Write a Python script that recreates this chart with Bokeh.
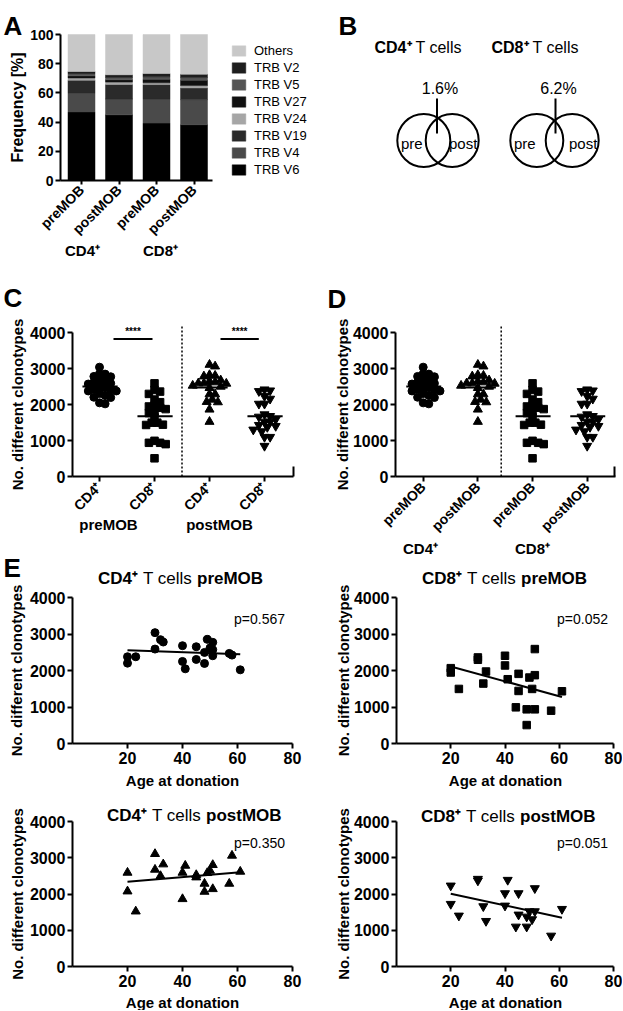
import numpy as np
from math import pi
from bokeh.plotting import figure
from bokeh.models import Range1d, Label, FixedTicker, Legend, LegendItem, ColumnDataSource
from bokeh.layouts import column, row
from bokeh.embed import file_html
from bokeh.resources import INLINE

FONT = "Liberation Sans"
SUP = "\u207a"

# ---------------- data ----------------
# Panel A: TRB V-gene usage, % of clonotypes
bar_samples = ["preMOB", "postMOB", "preMOB", "postMOB"]
bar_cells = ["CD4" + SUP, "CD8" + SUP]
trb_names = ["TRB V6", "TRB V4", "TRB V19", "TRB V24", "TRB V27", "TRB V5", "TRB V2", "Others"]
trb_v6 = [47.0, 45.0, 39.3, 38.2]
trb_v4 = [12.7, 10.8, 16.5, 17.2]
trb_v19 = [9.0, 10.0, 9.9, 8.0]
trb_v24 = [1.5, 1.6, 1.2, 1.6]
trb_v27 = [1.5, 1.6, 2.5, 3.6]
trb_v5 = [1.5, 1.6, 1.6, 1.9]
trb_v2 = [1.5, 1.8, 2.3, 2.3]
trb_others = [25.3, 27.6, 26.7, 27.2]

# Panel B: clonotype overlap pre/post mobilisation
venn_cells = ["CD4" + SUP, "CD8" + SUP]
venn_overlap = ["1.6%", "6.2%"]

# Panel E (and C, D): donor age and number of different clonotypes
age_cd4_pre = [20, 20, 23, 30, 30, 32, 33, 40, 40, 41, 45, 45, 48, 48, 49, 51, 50, 51, 51, 57, 58, 61]
cd4_pre = [2202, 2376, 2376, 3037, 2587, 2844, 2780, 2679, 2248, 2046, 2651, 2303, 2193, 2495,
           2853, 2771, 2615, 2569, 2404, 2468, 2422, 2018]
age_cd8_pre = [20, 20, 23, 30, 30, 32, 33, 40, 40, 41, 44, 45, 45, 48, 48, 49, 50, 51, 51, 51, 57, 61]
cd8_pre = [2064, 1945, 1495, 2358, 2294, 1642, 1972, 2404, 2138, 1761, 991, 1908, 1440, 936,
           505, 1807, 1495, 2587, 1872, 936, 899, 1431]
age_cd4_post = [20, 20, 23, 30, 30, 32, 33, 40, 40, 41, 45, 45, 48, 48, 49, 50, 51, 51, 57, 58, 61]
cd4_post = [2590, 2074, 1521, 3106, 2673, 2498, 2820, 2590, 1862, 2783, 2525, 2461, 2286, 2065,
            2581, 2645, 2802, 2138, 2286, 3060, 2618]
age_cd8_post = [20, 20, 23, 30, 30, 32, 33, 40, 40, 41, 44, 45, 45, 48, 48, 49, 50, 51, 51, 57, 61]
cd8_post = [2230, 1724, 1401, 2415, 2369, 1659, 1253, 2018, 1677, 2387, 1097, 2018, 1429, 1373,
            1097, 1521, 1300, 2157, 1521, 848, 1585]
p_values = ["p=0.567", "p=0.052", "p=0.350", "p=0.051"]
significance = "****"

# ---------------- helpers ----------------
def lin(p0, v0, p1, v1):
    return lambda p: v0 + (p - p0) * (v1 - v0) / (p1 - p0)


def make_fig(box, fx, fy, axes=True):
    X0, Y0, X1, Y1 = box
    kw = dict(width=X1 - X0, height=Y1 - Y0,
              x_range=Range1d(fx(X0), fx(X1)), y_range=Range1d(fy(Y1), fy(Y0)),
              min_border=0, min_border_left=0, min_border_right=0,
              min_border_top=0, min_border_bottom=0,
              output_backend="svg", toolbar_location=None, tools="", title=None)
    if not axes:
        kw.update(x_axis_type=None, y_axis_type=None)
    p = figure(**kw)
    p.outline_line_color = None
    p.background_fill_color = "white"
    p.border_fill_color = "white"
    if axes:
        p.grid.visible = False
    return p


def setup_axes(p, x_at, y_at, xbounds, ybounds, xticks, yticks, xsize, ysize):
    for ax in list(p.xaxis) + list(p.yaxis):
        ax.axis_line_width = 2
        ax.axis_line_color = "black"
        ax.major_tick_line_width = 2
        ax.major_tick_line_color = "black"
        ax.major_tick_out = 5
        ax.major_tick_in = 0
        ax.minor_tick_line_color = None
        ax.major_label_text_font = FONT
        ax.major_label_text_font_style = "bold"
        ax.major_label_text_color = "black"
    p.xaxis.fixed_location = x_at
    p.yaxis.fixed_location = y_at
    p.xaxis.bounds = xbounds
    p.yaxis.bounds = ybounds
    p.xaxis.ticker = FixedTicker(ticks=xticks)
    p.yaxis.ticker = FixedTicker(ticks=yticks)
    p.xaxis.major_label_text_font_size = f"{xsize}px"
    p.yaxis.major_label_text_font_size = f"{ysize}px"
    p.yaxis.major_label_standoff = 2
    p.xaxis.major_label_standoff = 3


def lab(p, x, y, s, size, bold=False, align="center", baseline="middle", angle=0):
    p.add_layout(Label(x=x, y=y, text=s, text_font=FONT, text_font_size=f"{size}px",
                       text_font_style="bold" if bold else "normal", text_color="black",
                       text_align=align, text_baseline=baseline, angle=angle))


def swarm(vals, ppx, ppy, d=5.6):
    vals = np.asarray(vals, float)
    ys = vals * ppy
    order = np.argsort(-vals)
    cands = [0.0]
    for k in range(1, 16):
        cands += [k * d / 2, -k * d / 2]
    placed = []
    off = np.zeros(len(vals))
    for i in order:
        for c in cands:
            if all((c - px) ** 2 + (ys[i] - py) ** 2 >= d * d for px, py in placed):
                placed.append((c, ys[i]))
                off[i] = c
                break
    return off / ppx


# ---------------- Panel A ----------------
fxA = lin(81, 1, 193.5, 4)
fyA = lin(180, 0, 34, 100)
pA = make_fig((0, 0, 310, 270), fxA, fyA)
srcA = ColumnDataSource(dict(x=[1, 2, 3, 4], **{
    "TRB V6": trb_v6, "TRB V4": trb_v4, "TRB V19": trb_v19, "TRB V24": trb_v24,
    "TRB V27": trb_v27, "TRB V5": trb_v5, "TRB V2": trb_v2, "Others": trb_others}))
colorsA = ["#000000", "#4a4a4a", "#2a2a2a", "#a6a6a6", "#111111", "#555555", "#1e1e1e", "#c8c8c8"]
rs = pA.vbar_stack(trb_names, x="x", width=0.72, fill_color=colorsA, line_color=colorsA,
                   line_width=0.5, source=srcA)
items = [LegendItem(label=n, renderers=[r]) for n, r in zip(trb_names, rs)][::-1]
leg = Legend(items=items, location=(230, 93), glyph_width=17, glyph_height=13, label_standoff=7,
             spacing=2, padding=0, margin=0, border_line_color=None, background_fill_alpha=0,
             label_text_font=FONT, label_text_font_size="13px", label_text_color="black",
             label_height=13)
pA.add_layout(leg)
setup_axes(pA, 0, fxA(60), (fxA(60), fxA(212)), (0, 100), [1, 2, 3, 4], [0, 20, 40, 60, 80, 100], 14, 14)
pA.xaxis.major_label_overrides = {i + 1: s for i, s in enumerate(bar_samples)}
pA.xaxis.major_label_orientation = pi / 4
pA.xaxis.major_tick_out = 4
lab(pA, fxA(3), fyA(25), "A", 26, True, "left", "alphabetic")
lab(pA, fxA(17), fyA(107), "Frequency [%]", 16, True, angle=pi / 2)
lab(pA, fxA(82), fyA(250), bar_cells[0], 15, True)
lab(pA, fxA(160), fyA(250), bar_cells[1], 15, True)

# ---------------- Panel B ----------------
ident = lin(0, 0, 1, 1)
pB = make_fig((310, 0, 622, 270), ident, ident, axes=False)
lab(pB, 338, 25, "B", 26, True, "left", "alphabetic")
venn_left = [423.3, 536.3]
venn_right = [451.7, 571.7]
venn_line = [436.5, 555]
venn_head_split = [411, 528]
for k in range(2):
    pB.circle(x=[venn_left[k], venn_right[k]], y=[140, 140], radius=26.5,
              fill_color=None, line_color="black", line_width=2)
    pB.segment(x0=[venn_line[k]], y0=[98], x1=[venn_line[k]], y1=[133], line_color="black", line_width=2)
    lab(pB, venn_head_split[k], 47, venn_cells[k], 16, True, "right")
    lab(pB, venn_head_split[k] + 4, 47, "T cells", 16, False, "left")
    lab(pB, venn_line[k] + 3, 88, venn_overlap[k], 16, False)
    lab(pB, venn_left[k] - 12, 143, "pre", 15, False)
    lab(pB, venn_right[k] + 11, 143, "post", 15, False)

# ---------------- Panels C and D ----------------
groups = {
    "cd4_pre": (cd4_pre, "circle", 8),
    "cd8_pre": (cd8_pre, "square", 7.5),
    "cd4_post": (cd4_post, "triangle", 9),
    "cd8_post": (cd8_post, "inverted_triangle", 9),
}


def dot_panel(p, order, ppx, ppy):
    for pos, g in enumerate(order, start=1):
        vals, marker, size = groups[g]
        off = swarm(vals, ppx, ppy)
        p.scatter(x=pos + off, y=vals, marker=marker, size=size, fill_color="black", line_color="black")
        m = float(np.mean(vals))
        p.segment(x0=[pos - 0.31], y0=[m], x1=[pos + 0.33], y1=[m], line_color="black", line_width=2)


COUNT_TICKS = [0, 1000, 2000, 3000, 4000]

# C
fxC = lin(99, 1, 264, 4)
fyC = lin(476, 0, 332, 4000)
pC = make_fig((0, 270, 310, 540), fxC, fyC)
setup_axes(pC, 0, fxC(72), (fxC(72), fxC(293)), (0, 4000), [1, 2, 3, 4], COUNT_TICKS, 14, 16)
pC.xaxis.major_label_overrides = {1: "CD4" + SUP, 2: "CD8" + SUP, 3: "CD4" + SUP, 4: "CD8" + SUP}
pC.xaxis.major_label_orientation = pi / 4
dot_panel(pC, ["cd4_pre", "cd8_pre", "cd4_post", "cd8_post"], 55, 0.036)
pC.segment(x0=[2.5], y0=[0], x1=[2.5], y1=[fyC(325)], line_color="black", line_width=1.5, line_dash="2 2")
pC.segment(x0=[fxC(293)], y0=[0], x1=[fxC(293)], y1=[fyC(466)], line_color="black", line_width=2)
for a, b in [(113, 152), (220, 258.3)]:
    pC.segment(x0=[fxC(a)], y0=[fyC(338.6)], x1=[fxC(b)], y1=[fyC(338.6)], line_color="black", line_width=2)
    lab(pC, fxC((a + b) / 2), fyC(331), significance, 10, True)
lab(pC, fxC(3), fyC(297), "C", 26, True, "left", "alphabetic")
lab(pC, fxC(16.5), 2000, "No. different clonotypes", 15, True, angle=pi / 2)
lab(pC, fxC(108), fyC(524), "preMOB", 15, True)
lab(pC, fxC(219), fyC(524), "postMOB", 15, True)

# D
fxD = lin(422.7, 1, 586.7, 4)
fyD = lin(476, 0, 332, 4000)
pD = make_fig((310, 270, 622, 560), fxD, fyD)
setup_axes(pD, 0, fxD(395), (fxD(395), fxD(615)), (0, 4000), [1, 2, 3, 4], COUNT_TICKS, 14, 16)
pD.xaxis.major_label_overrides = {i + 1: s for i, s in enumerate(bar_samples)}
pD.xaxis.major_label_orientation = pi / 4
dot_panel(pD, ["cd4_pre", "cd4_post", "cd8_pre", "cd8_post"], 54.67, 0.036)
pD.segment(x0=[fxD(500.7)], y0=[0], x1=[fxD(500.7)], y1=[fyD(325)], line_color="black", line_width=1.5,
           line_dash="2 2")
pD.segment(x0=[fxD(614)], y0=[0], x1=[fxD(614)], y1=[fyD(466)], line_color="black", line_width=2)
lab(pD, fxD(327), fyD(298), "D", 26, True, "left", "alphabetic")
lab(pD, fxD(342), 2000, "No. different clonotypes", 15, True, angle=pi / 2)
lab(pD, fxD(420), fyD(548), bar_cells[0], 15, True)
lab(pD, fxD(532), fyD(548), bar_cells[1], 15, True)


# ---------------- Panel E ----------------
def age_panel(box, axis_x, axis_end, y0px, y4000px, ages, vals, marker, size, cell, stage,
              tcenter, ty, pval, pxy, ylab_x, xlab_c, xlab_dy, letter=None):
    fx = lin(axis_x, 0, axis_end, 80)
    fy = lin(y0px, 0, y4000px, 4000)
    p = make_fig(box, fx, fy)
    setup_axes(p, 0, 0, (0, 80), (0, 4000), [20, 40, 60, 80], COUNT_TICKS, 16, 16)
    p.scatter(x=ages, y=vals, marker=marker, size=size, fill_color="black", line_color="black")
    k, b = np.polyfit(ages, vals, 1)
    xs = np.array([min(ages), max(ages)], float)
    p.line(x=xs, y=k * xs + b, line_color="black", line_width=2)
    lab(p, fx(tcenter - 29.5), fy(ty), cell, 17, True, "right")
    lab(p, fx(tcenter), fy(ty), "T cells", 17, False, "center")
    lab(p, fx(tcenter + 29.5), fy(ty), stage, 17, True, "left")
    lab(p, fx(pxy[0]), fy(pxy[1]), pval, 14, False)
    lab(p, fx(ylab_x), 2000, "No. different clonotypes", 15, True, angle=pi / 2)
    lab(p, fx(xlab_c), fy(y0px + xlab_dy), "Age at donation", 15, True)
    if letter:
        lab(p, fx(3), fy(567), letter, 26, True, "left", "alphabetic")
    return p


pE1 = age_panel((0, 540, 310, 798), 72, 292, 743, 597, age_cd4_pre, cd4_pre, "circle", 8,
                "CD4" + SUP, "preMOB", 167, 578, p_values[0], (259, 618), 16, 182, 37, letter="E")
pE2 = age_panel((310, 560, 622, 798), 396, 613, 743, 597, age_cd8_pre, cd8_pre, "square", 7.5,
                "CD8" + SUP, "preMOB", 491, 578, p_values[1], (582, 618), 343, 505, 37)
pE3 = age_panel((0, 798, 310, 1010), 72, 292, 966, 821, age_cd4_post, cd4_post, "triangle", 9,
                "CD4" + SUP, "postMOB", 176, 815, p_values[2], (259, 842), 17, 182, 36)
pE4 = age_panel((310, 798, 622, 1010), 396, 613, 966, 821, age_cd8_post, cd8_post, "inverted_triangle", 9,
                "CD8" + SUP, "postMOB", 490, 816, p_values[3], (582, 842), 343, 505, 36)

layout = row(column(pA, pC, pE1, pE3, spacing=0), column(pB, pD, pE2, pE4, spacing=0), spacing=0)
open("out.html", "w").write(file_html(layout, INLINE))
